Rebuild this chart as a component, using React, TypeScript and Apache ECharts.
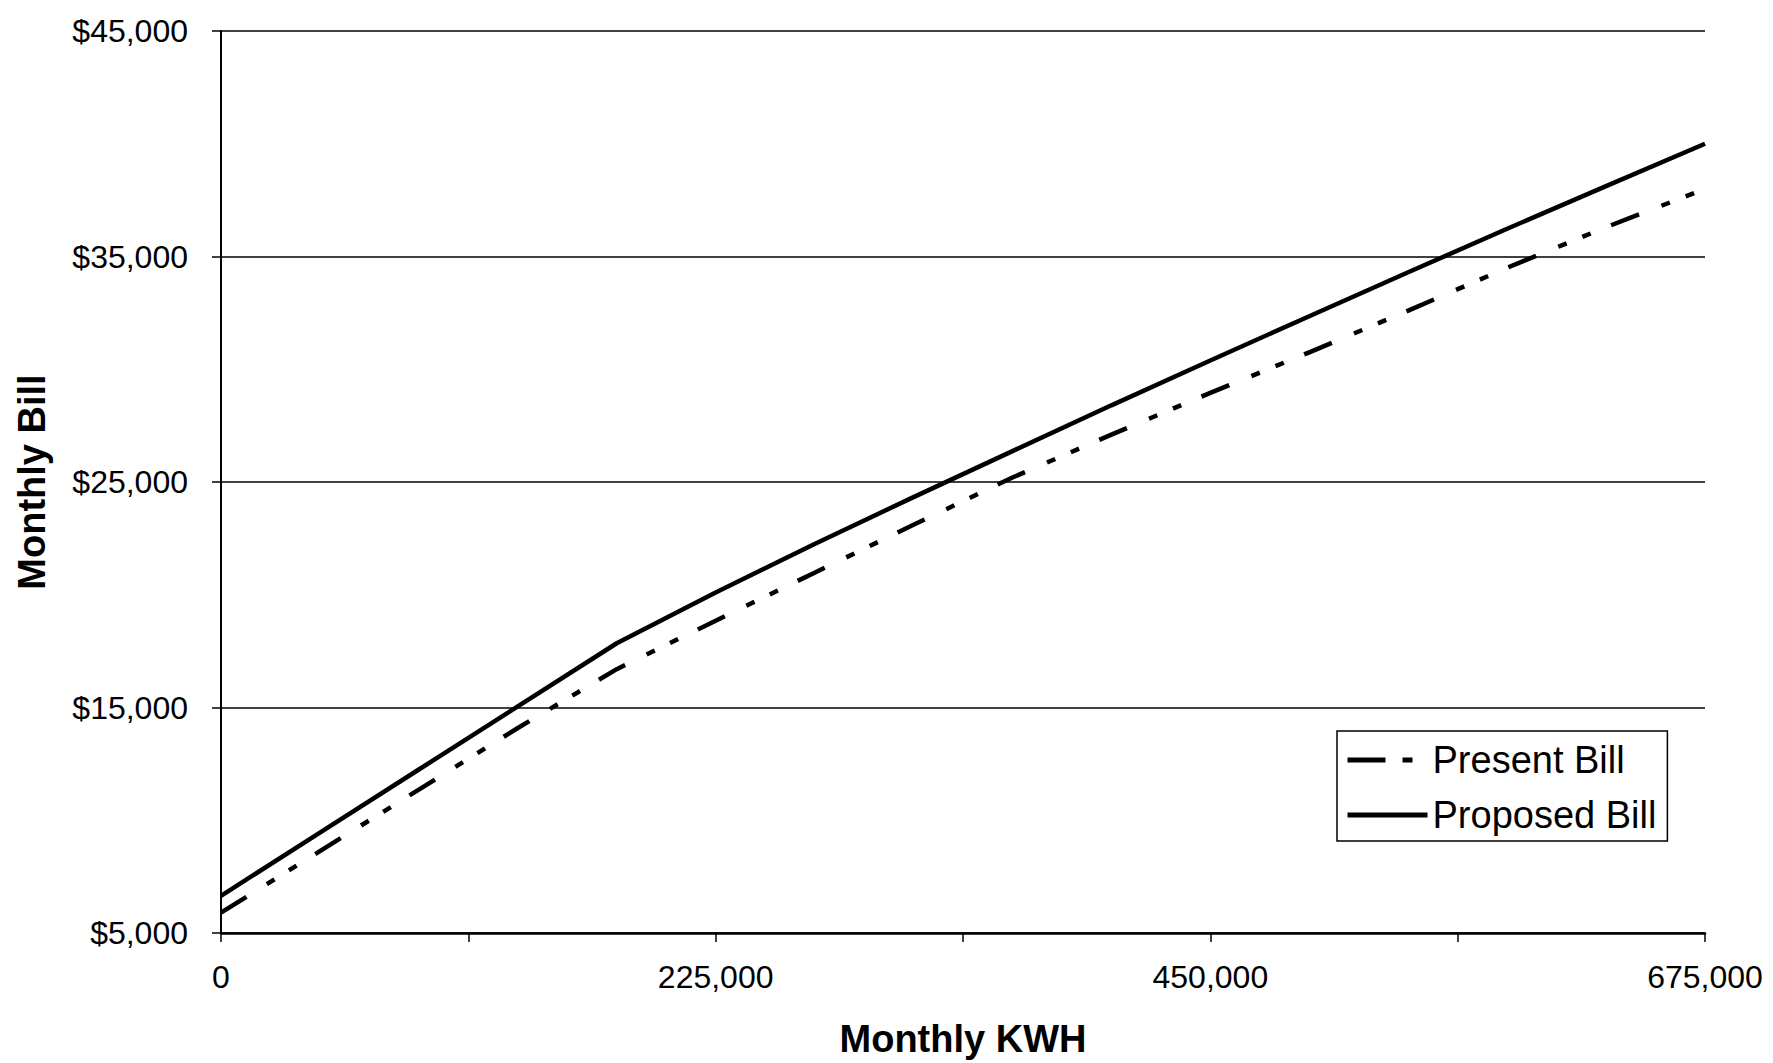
import React, { useEffect, useRef } from "react";
import * as echarts from "echarts";

const kwh = [0, 45000, 90000, 135000, 180000, 225000, 270000, 315000, 360000, 405000, 450000, 495000, 540000, 585000, 630000, 675000];
const presentBill = [5900, 8630, 11360, 14090, 16700, 18850, 20980, 23100, 25200, 27100, 28950, 30750, 32600, 34500, 36300, 38000];
const proposedBill = [6650, 9450, 12250, 15050, 17850, 20100, 22250, 24330, 26370, 28400, 30390, 32350, 34300, 36230, 38120, 40000];
const seriesNames = ["Present Bill", "Proposed Bill"];
const xTitle = "Monthly KWH";
const yTitle = "Monthly Bill";

const FONT = '"Liberation Sans", Arial, sans-serif';
const PRESENT_DASH = [30, 24, 9, 17, 9, 22];

function commas(v: number): string {
  return String(Math.round(v)).replace(/\B(?=(\d{3})+(?!\d))/g, ",");
}

export default function App() {
  const ref = useRef<HTMLDivElement>(null);
  useEffect(() => {
    if (!ref.current) return;
    const chart = echarts.init(ref.current, undefined, { renderer: "svg" });
    chart.setOption({
      animation: false,
      backgroundColor: "#fff",
      grid: { left: 221, right: 68, top: 31, bottom: 129, containLabel: false },
      legend: {
        orient: "vertical",
        left: 1337,
        top: 731,
        padding: [10, 11, 7, 8],
        itemGap: 17,
        itemWidth: 80,
        itemHeight: 20,
        borderColor: "#000",
        borderWidth: 1.5,
        backgroundColor: "#fff",
        itemStyle: { opacity: 0 },
        data: [
          { name: seriesNames[0], itemStyle: { opacity: 0 }, lineStyle: { color: "#000", width: 5, type: [38, 17, 10, 40], cap: "butt" } },
          { name: seriesNames[1], itemStyle: { opacity: 0 }, lineStyle: { color: "#000", width: 5, type: "solid" } },
        ],
        textStyle: { fontSize: 38, color: "#000", fontFamily: FONT },
      },
      xAxis: {
        type: "value",
        min: 0,
        max: 675000,
        interval: 112500,
        name: xTitle,
        nameLocation: "middle",
        nameGap: 87,
        nameTextStyle: { fontSize: 38, fontWeight: "bold", color: "#000", fontFamily: FONT },
        axisLine: { show: true, onZero: false, lineStyle: { color: "#000", width: 2.5 } },
        axisTick: { show: true, inside: false, length: 9, lineStyle: { color: "#000", width: 1.5 } },
        axisLabel: {
          margin: 28,
          fontSize: 32,
          color: "#000",
          fontFamily: FONT,
          formatter: (v: number) => (v % 225000 === 0 ? commas(v) : ""),
        },
        splitLine: { show: false },
      },
      yAxis: {
        type: "value",
        min: 5000,
        max: 45000,
        interval: 10000,
        name: yTitle,
        nameLocation: "middle",
        nameGap: 170,
        nameTextStyle: { fontSize: 38, fontWeight: "bold", color: "#000", fontFamily: FONT },
        axisLine: { show: true, lineStyle: { color: "#000", width: 2 } },
        axisTick: { show: true, inside: false, length: 9, lineStyle: { color: "#000", width: 1.5 } },
        axisLabel: {
          margin: 33,
          fontSize: 32,
          color: "#000",
          fontFamily: FONT,
          formatter: (v: number) => "$" + commas(v),
        },
        splitLine: { show: true, lineStyle: { color: "#000", width: 1.5 } },
      },
      series: [
        {
          name: seriesNames[0],
          type: "line",
          data: kwh.map((x, i) => [x, presentBill[i]]),
          symbol: "none",
          showSymbol: false,
          lineStyle: { color: "#000", width: 4.5, type: PRESENT_DASH, cap: "butt" },
          itemStyle: { color: "#000" },
          z: 3,
        },
        {
          name: seriesNames[1],
          type: "line",
          data: kwh.map((x, i) => [x, proposedBill[i]]),
          symbol: "none",
          showSymbol: false,
          lineStyle: { color: "#000", width: 4.5, type: "solid" },
          itemStyle: { color: "#000" },
          z: 4,
        },
      ],
    });
    return () => chart.dispose();
  }, []);
  return (
    <div
      ref={ref}
      style={{ position: "absolute", left: 0, top: 0, width: 1773, height: 1063, background: "#fff" }}
    />
  );
}
